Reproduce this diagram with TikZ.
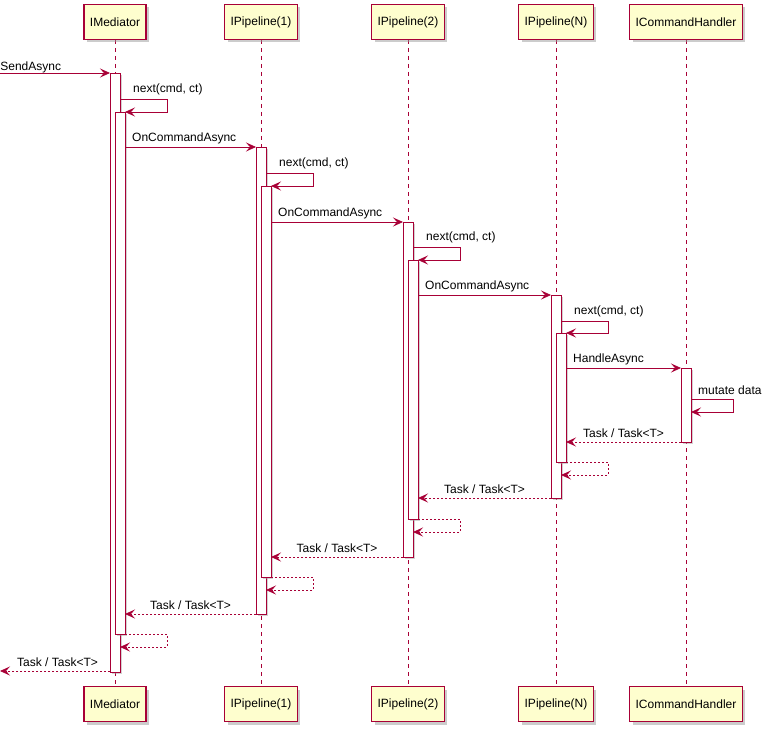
\documentclass[tikz,border=0pt]{standalone}
\usepackage{fontspec}
\setmainfont{Liberation Sans}
\usetikzlibrary{arrows.meta,shadows}
\definecolor{pred}{HTML}{A80036}
\definecolor{pfill}{HTML}{FEFECE}
\begin{document}
\begin{tikzpicture}[x=1pt,y=-1pt,font=\fontsize{12}{14}\selectfont,
  part/.style={draw=pred,fill=pfill,line width=1.1pt,minimum height=35,inner xsep=6,anchor=center,drop shadow={shadow xshift=3pt,shadow yshift=-3pt,fill=black!40}},
  life/.style={pred,dash pattern=on 4pt off 4pt,line width=0.8pt},
  act/.style={draw=pred,fill=white,line width=0.8pt,drop shadow={shadow xshift=2pt,shadow yshift=-2pt,fill=black!35}},
  msg/.style={pred,line width=0.8pt,-{Stealth[length=10pt,width=9pt,inset=4pt]}},
  ret/.style={msg,dash pattern=on 2pt off 2pt},
  lbl/.style={inner sep=0,anchor=south west,text=black}]
\useasboundingbox (0,0) rectangle (773,733);
\foreach \n/\x/\t in {a/115/IMediator,b/261/IPipeline(1),c/408/IPipeline(2),d/556/IPipeline(N),e/686/ICommandHandler}{
  \draw[life] (\x,40) -- (\x,686);
  \node[part] (\n top) at (\x,22) {\t};
  \node[part] (\n bot) at (\x,704) {\t};
}
% activations
\foreach \x/\ya/\yb in {110/73/672,115/112/634,256/147/614,261/186/577,403/222/557,408/260/519,551/295/498,556/333/462,681/368/442}{
  \filldraw[act] (\x,\ya) rectangle (\x+10,\yb);
}
\coordinate (s0) at (0,73);
\draw[msg] (s0) -- (110,73) node[lbl,pos=0] at (7,68) {SendAsync};
% self calls
\foreach \x/\ya/\yb in {120/99/112,266/173/186,413/247/260,561/321/333}{
  \draw[msg] (\x,\ya) -- (\x+47,\ya) -- (\x+47,\yb) -- (\x+5,\yb);
  \node[lbl] at (\x+13,\ya-4) {next(cmd, ct)};
}
\foreach \xa/\xb/\y in {125/256/147,271/403/222,418/551/295}{
  \draw[msg] (\xa,\y) -- (\xb,\y);
  \node[lbl] at (\xa+7,\y-3) {OnCommandAsync};
}
\draw[msg] (566,368) -- (681,368);
\node[lbl] at (573,365) {HandleAsync};
\draw[msg] (691,399) -- (733,399) -- (733,412) -- (691,412);
\node[lbl] at (698,395) {mutate data};
% returns
\foreach \xa/\xb/\y in {681/566/442,551/418/498,403/271/557,256/125/614}{
  \draw[ret] (\xa,\y) -- (\xb,\y);
  \node[lbl,anchor=south] at ({(\xa+\xb)/2},\y-4) {Task / Task<T>};
}
\foreach \x/\ya in {566/462,418/519,271/577,125/634}{
  \draw[ret] (\x,\ya) -- (\x+42,\ya) -- (\x+42,\ya+13) -- (\x-5,\ya+13);
}
\coordinate (e0) at (0,671);
\draw[ret] (110,671) -- (e0);
\node[lbl] at (17,667) {Task / Task<T>};
\end{tikzpicture}
\end{document}
